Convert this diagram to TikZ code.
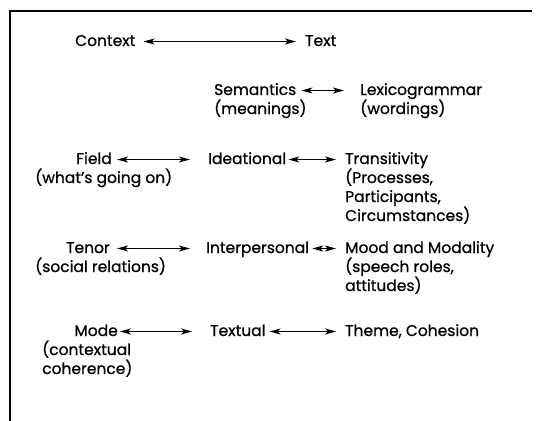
\documentclass[tikz,border=0pt]{standalone}
\usepackage{fontspec}
\setmainfont{Poppins}[FakeBold=0.8]
\usetikzlibrary{arrows.meta}
\begin{document}
\begin{tikzpicture}[x=1pt,y=-1pt,
  lbl/.style={inner sep=0pt,font=\fontsize{15.5}{19}\selectfont,anchor=base west},
  lblr/.style={lbl,anchor=base east},
  rel/.style={{Stealth[length=11pt,width=6pt,inset=3pt]}-{Stealth[length=11pt,width=6pt,inset=3pt]},line width=1pt}]
\useasboundingbox (0,0) rectangle (539,421);
\draw[line width=1.4pt] (10,421) -- (10,11) -- (532,11);
% row 0
\node[lbl] (context) at (75,46) {Context};
\node[lbl] (text) at (305,46) {Text};
\draw[rel] ([xshift=8pt,yshift=4.5pt]context.base east) -- ([xshift=-9pt,yshift=4.5pt]text.base west);
% row 1
\node[lbl] (sem) at (214,95) {Semantics};
\node[lbl] (semg) at (214,114) {(meanings)};
\node[lbl] (lex) at (360,95) {Lexicogrammar};
\node[lbl] (lexg) at (360,114) {(wordings)};
\draw[rel] ([xshift=5pt,yshift=4.5pt]sem.base east) -- ([xshift=-16pt,yshift=4.5pt]lex.base west);
% row 2
\node[lblr] (field) at (112,164) {Field};
\node[lbl] (fieldg) at (35,183) {(what’s going on)};
\node[lbl] (idea) at (208,164) {Ideational};
\node[lbl] (trans) at (345,164) {Transitivity};
\node[lbl] (trans2) at (345,183) {(Processes,};
\node[lbl] (trans3) at (345,202) {Participants,};
\node[lbl] (trans4) at (345,221) {Circumstances)};
\draw[rel] ([xshift=5pt,yshift=4.5pt]field.base east) -- ([xshift=-18pt,yshift=4.5pt]idea.base west);
\draw[rel] ([xshift=2pt,yshift=4.5pt]idea.base east) -- ([xshift=-9pt,yshift=4.5pt]trans.base west);
% row 3
\node[lblr] (tenor) at (110,253) {Tenor};
\node[lbl] (tenorg) at (35,272) {(social relations)};
\node[lbl] (inter) at (206,253) {Interpersonal};
\node[lbl] (mood) at (345,253) {Mood and Modality};
\node[lbl] (mood2) at (345,272) {(speech roles,};
\node[lbl] (mood3) at (345,291) {attitudes)};
\draw[rel] ([xshift=7pt,yshift=4.5pt]tenor.base east) -- ([xshift=-16pt,yshift=4.5pt]inter.base west);
\draw[rel] ([xshift=3pt,yshift=4.5pt]inter.base east) -- ([xshift=-9pt,yshift=4.5pt]mood.base west);
% row 4
\node[lblr] (mode) at (118,336) {Mode};
\node[lbl] (modeg) at (42,355) {(contextual};
\node[lbl] (modeg2) at (42,374) {coherence)};
\node[lbl] (textual) at (210,336) {Textual};
\node[lbl] (theme) at (345,336) {Theme, Cohesion};
\draw[rel] ([xshift=2pt,yshift=4.5pt]mode.base east) -- ([xshift=-18pt,yshift=4.5pt]textual.base west);
\draw[rel] ([xshift=4pt,yshift=4.5pt]textual.base east) -- ([xshift=-9pt,yshift=4.5pt]theme.base west);
\end{tikzpicture}
\end{document}
